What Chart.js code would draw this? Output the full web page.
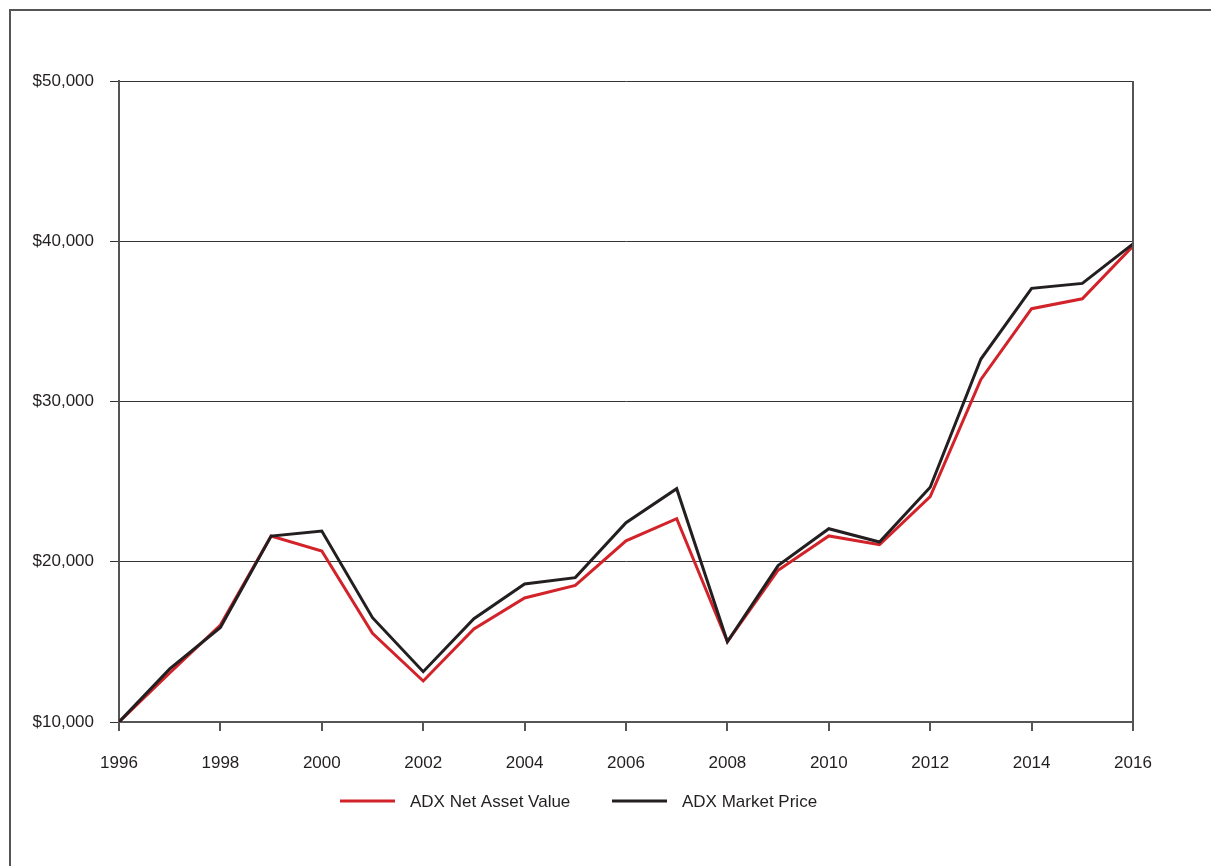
<!DOCTYPE html>
<html>
<head>
<meta charset="utf-8">
<script src="https://cdn.jsdelivr.net/npm/chart.js@4.4.1/dist/chart.umd.min.js"></script>
<style>
    html, body { margin: 0; padding: 0; background: #ffffff; }
    #wrap { position: relative; width: 1211px; height: 866px; }
</style>
</head>
<body>
<div id="wrap"><canvas id="adxChart" width="1211" height="866"></canvas></div>
<script>
// --- Data ---
const years = [1996, 1997, 1998, 1999, 2000, 2001, 2002, 2003, 2004, 2005, 2006,
               2007, 2008, 2009, 2010, 2011, 2012, 2013, 2014, 2015, 2016];
const navValues = [10000, 13060, 16050, 21600, 20670, 15530, 12560, 15800, 17740, 18520, 21310,
                   22690, 15010, 19470, 21610, 21060, 24060, 31380, 35790, 36410, 39700];
const marketValues = [10000, 13310, 15900, 21600, 21920, 16510, 13140, 16450, 18610, 19010, 22440,
                      24560, 15010, 19760, 22060, 21230, 24650, 32650, 37060, 37370, 39830];
const yTicks = [10000, 20000, 30000, 40000, 50000];
const seriesNames = ["ADX Net Asset Value", "ADX Market Price"];

const RED = "#d2232a";
const BLACK = "#231f20";
const TEXT = "#231f20";
const FONT = "'Liberation Sans', Arial, sans-serif";

// --- Frame, right border and legend drawn on top of the chart ---
const decorPlugin = {
    id: "decor",
    beforeDraw(chart) {
        const ctx = chart.ctx;
        ctx.save();
        ctx.strokeStyle = "#555555";
        ctx.lineWidth = 2;
        ctx.beginPath();
        ctx.moveTo(10, 866);
        ctx.lineTo(10, 10);
        ctx.lineTo(1211, 10);
        ctx.stroke();
        ctx.restore();
    },
    afterDraw(chart) {
        const ctx = chart.ctx;
        const area = chart.chartArea;
        ctx.save();
        // right border of the plot
        ctx.strokeStyle = "#555555";
        ctx.lineWidth = 2;
        ctx.beginPath();
        ctx.moveTo(area.right, area.top);
        ctx.lineTo(area.right, area.bottom);
        ctx.stroke();

        // legend
        const items = [
            { name: seriesNames[0], color: RED, x: 340 },
            { name: seriesNames[1], color: BLACK, x: 612 }
        ];
        ctx.font = "17px " + FONT;
        ctx.fillStyle = TEXT;
        ctx.textBaseline = "middle";
        items.forEach(item => {
            ctx.strokeStyle = item.color;
            ctx.lineWidth = 3;
            ctx.beginPath();
            ctx.moveTo(item.x, 801);
            ctx.lineTo(item.x + 55, 801);
            ctx.stroke();
            ctx.fillText(item.name, item.x + 70, 802);
        });
        ctx.restore();
    }
};

const ctx = document.getElementById("adxChart");

new Chart(ctx, {
    type: "line",
    data: {
        datasets: [
            {
                label: seriesNames[0],
                data: years.map((y, i) => ({ x: y, y: navValues[i] })),
                borderColor: RED,
                borderWidth: 3,
                pointRadius: 0,
                tension: 0,
                order: 2
            },
            {
                label: seriesNames[1],
                data: years.map((y, i) => ({ x: y, y: marketValues[i] })),
                borderColor: BLACK,
                borderWidth: 3,
                pointRadius: 0,
                tension: 0,
                order: 1
            }
        ]
    },
    options: {
        responsive: false,
        animation: false,
        devicePixelRatio: 1,
        layout: { padding: { top: 81, right: 78, left: 0, bottom: 0 } },
        plugins: {
            legend: { display: false },
            tooltip: { enabled: false }
        },
        scales: {
            x: {
                type: "linear",
                min: years[0],
                max: years[years.length - 1],
                afterFit: scale => { scale.height = 144; },
                ticks: {
                    stepSize: 2,
                    padding: 22,
                    color: TEXT,
                    font: { family: FONT, size: 17 },
                    callback: v => String(v)
                },
                grid: { drawOnChartArea: false, drawTicks: true, tickLength: 9, color: "#555555", lineWidth: 2 },
                border: { color: "#555555", width: 2 }
            },
            y: {
                min: yTicks[0],
                max: yTicks[yTicks.length - 1],
                afterFit: scale => { scale.width = 119; },
                afterBuildTicks: scale => { scale.ticks = yTicks.map(v => ({ value: v })); },
                ticks: {
                    padding: 16,
                    color: TEXT,
                    font: { family: FONT, size: 17 },
                    callback: v => "$" + v.toLocaleString("en-US")
                },
                grid: { color: "#333333", lineWidth: 1, tickLength: 9 },
                border: { color: "#555555", width: 2 }
            }
        }
    },
    plugins: [decorPlugin]
});
</script>
</body>
</html>
